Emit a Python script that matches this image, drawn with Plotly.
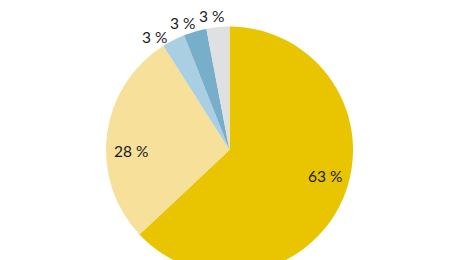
import math
import plotly.graph_objects as go

labels = ["A", "B", "C", "D", "E"]
values = [63, 28, 3, 3, 3]
texts = ["63 %", "28 %", "3 %", "3 %", "3 %"]
colors = ["#E9C400", "#F6E09A", "#AACFE3", "#77AFCA", "#DFE0E2"]
outside = [False, False, True, True, True]

W, H = 460, 280
CX, CY, R = 229.5, 150.0, 123.5  # pixel geometry of the pie

fig = go.Figure(go.Pie(
    labels=labels,
    values=values,
    textinfo="none",
    marker=dict(colors=colors, line=dict(width=0)),
    sort=False,
    direction="clockwise",
    rotation=0,
    domain=dict(x=[(CX - R) / W, (CX + R) / W], y=[(H - CY - R) / H, (H - CY + R) / H]),
    showlegend=False,
    hoverinfo="skip",
))

total = sum(values)
cum = 0.0
annotations = []
for v, t, out in zip(values, texts, outside):
    mid = (cum + v / 2) / total * 360.0
    cum += v
    if out:
        ang, rr = mid - (1.0 + 0.2 * (360.0 - mid)), R * 1.097
    else:
        ang, rr = mid - 8.0, R * 0.8
    a = math.radians(ang)
    px = CX + rr * math.sin(a)
    py = CY - rr * math.cos(a)
    annotations.append(dict(
        x=px / W, y=1 - py / H, xref="paper", yref="paper",
        text=t, showarrow=False, xanchor="center", yanchor="middle",
        font=dict(family="Lato", size=15.5, color="#1a1a1a"),
    ))

fig.update_layout(
    width=W, height=H,
    margin=dict(l=0, r=0, t=0, b=0),
    paper_bgcolor="white",
    plot_bgcolor="white",
    annotations=annotations,
)
fig.write_html(
    "out.html",
    config={"displayModeBar": False},
    post_script="document.documentElement.style.overflow='hidden';document.body.style.overflow='hidden';document.body.style.margin='0';",
)
